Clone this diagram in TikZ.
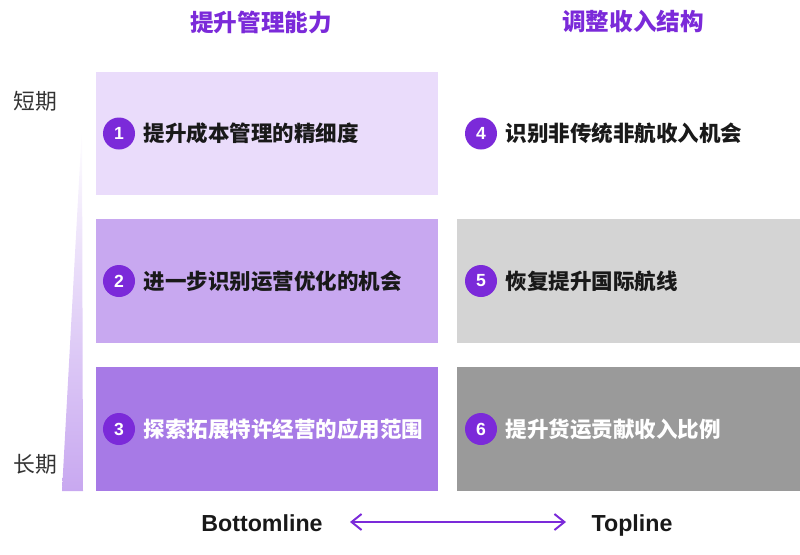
\documentclass[tikz,border=0pt]{standalone}
\usepackage{fontspec}
\setmainfont{Liberation Sans}
\newfontfamily\cjk{Noto Sans CJK SC}
\usetikzlibrary{positioning, arrows.meta}
\definecolor{mypurple}{RGB}{123,42,217}
\definecolor{lavone}{RGB}{234,220,251}
\definecolor{lavtwo}{RGB}{200,168,240}
\definecolor{lavthree}{RGB}{167,122,230}
\definecolor{greytwo}{RGB}{212,212,212}
\definecolor{greythree}{RGB}{154,154,154}

\begin{document}
\begin{tikzpicture}[x=0.025cm, y=-0.025cm,
    cell/.style={minimum width=8.55cm, minimum height=3.075cm, inner sep=0pt, outer sep=0pt},
    num/.style={circle, fill=mypurple, text=white, minimum size=0.8cm, inner sep=0pt, font=\bfseries\fontsize{12.5}{12.5}\selectfont},
    item/.style={anchor=west, inner sep=0pt, text=black!90, font=\cjk\bfseries\fontsize{15.3}{17}\selectfont},
    head/.style={text=mypurple, font=\cjk\bfseries\fontsize{16.8}{18}\selectfont},
    term/.style={text=black!80, font=\cjk\fontsize{15.5}{17}\selectfont},
    axis/.style={text=black!90, font=\bfseries\fontsize{16.5}{18}\selectfont}]
    \useasboundingbox (0,0) rectangle (800,554);

    % Headers
    \node[head] (mgmt) at (261,22) {提升管理能力};
    \node[head] (rev) at (633,22) {调整收入结构};

    % Time axis
    \shade[top color=white, bottom color=lavtwo] (82,126) -- (83,491) -- (62,491) -- cycle;
    \node[term] (short) at (35,101) {短期};
    \node[term] (long) at (35,464) {长期};

    % Cells
    \node[cell, fill=lavone] (c1) at (267,133.5) {};
    \node[cell, fill=lavtwo] (c2) at (267,281) {};
    \node[cell, fill=lavthree] (c3) at (267,429) {};
    \node[cell] (c4) at (628.5,133.5) {};
    \node[cell, fill=greytwo] (c5) at (628.5,281) {};
    \node[cell, fill=greythree] (c6) at (628.5,429) {};

    % Items
    \node[num] (n1) at (119,133.5) {1};
    \node[item, right=0.2cm of n1] (t1) {提升成本管理的精细度};
    \node[num] (n2) at (119,281) {2};
    \node[item, right=0.2cm of n2] (t2) {进一步识别运营优化的机会};
    \node[num] (n3) at (119,429) {3};
    \node[item, text=white, right=0.2cm of n3] (t3) {探索拓展特许经营的应用范围};
    \node[num] (n4) at (481,133.5) {4};
    \node[item, right=0.2cm of n4] (t4) {识别非传统非航收入机会};
    \node[num] (n5) at (481,281) {5};
    \node[item, right=0.2cm of n5] (t5) {恢复提升国际航线};
    \node[num] (n6) at (481,429) {6};
    \node[item, text=white, right=0.2cm of n6] (t6) {提升货运贡献收入比例};

    % Bottom arrow
    \node[axis] (bottom) at (262,523) {Bottomline};
    \node[axis] (top) at (632,525) {Topline};
    \coordinate (al) at (350,522);
    \coordinate (ar) at (566,522);
    \draw[{Straight Barb[length=2.5mm, width=4mm]}-{Straight Barb[length=2.5mm, width=4mm]}, mypurple, line width=1.4pt] (al) -- (ar);
\end{tikzpicture}
\end{document}
